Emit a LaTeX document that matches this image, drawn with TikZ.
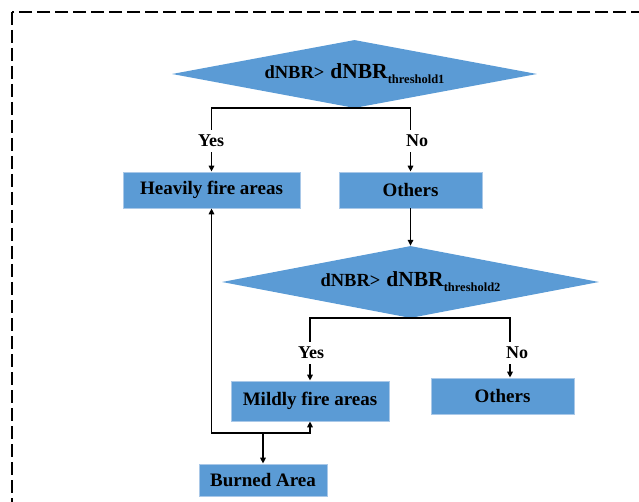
\documentclass[tikz,border=0pt]{standalone}
\usepackage{fontspec}
\setmainfont{Liberation Serif}
\usepackage{tikz}
\usetikzlibrary{shapes.geometric,arrows.meta}
\definecolor{boxfill}{HTML}{5B9BD5}
\definecolor{boxedge}{HTML}{A9C8E8}
\definecolor{ink}{HTML}{000000}
\newcommand{\thrtext}[1]{{\fontsize{18.5}{20}\selectfont dNBR>}\hspace{6pt}{\fontsize{21.5}{24}\selectfont dNBR}\raisebox{-5pt}{\fontsize{12.5}{14}\selectfont threshold#1}}
\tikzset{
  frame/.style={draw=ink, line width=1.3pt, dash pattern=on 13pt off 5pt},
  decbox/.style={diamond, shape aspect=5.4, fill=boxfill, draw=none, inner sep=0pt, font=\bfseries},
  resbox/.style={rectangle, fill=boxfill, draw=boxedge, line width=0.8pt, inner sep=0pt, minimum height=36pt, font=\bfseries\fontsize{19}{22}\selectfont},
  lab/.style={text=ink, inner sep=5pt, font=\bfseries\fontsize{18}{20}\selectfont},
  link/.style={draw=ink, line width=1.6pt},
  arr/.style={link, -{Triangle[length=6pt,width=5.5pt]}}
}
\begin{document}
\begin{tikzpicture}[x=1pt,y=-1pt]
  \clip (0,0) rectangle (639,502);
  \draw[frame] (12,12) rectangle (690,550);

  % First test
  \node[decbox, minimum width=365pt, minimum height=68pt] (dec1) at (354.5,74) {\thrtext{1}};
  \node[lab] (yes1) at (211,141) {Yes};
  \node[lab] (no1) at (417,141) {No};
  \node[resbox, minimum width=177pt] (heavy) at (211.5,190) {Heavily fire areas};
  \node[resbox, minimum width=143pt] (oth1) at (410.5,190) {Others};

  \draw[link] (yes1.north -| heavy.north) |- (dec1.south) -| (no1.north -| oth1.north);
  \draw[arr] (yes1.south -| heavy.north) -- (heavy.north);
  \draw[arr] (no1.south -| oth1.north) -- (oth1.north);

  % Second test
  \node[decbox, minimum width=377pt, minimum height=72pt] (dec2) at (410.5,282) {\thrtext{2}};
  \node[lab] (yes2) at (311,353) {Yes};
  \node[lab] (no2) at (517,353) {No};
  \node[resbox, minimum width=158pt, minimum height=40pt] (mild) at (310,401) {Mildly fire areas};
  \node[resbox, minimum width=143pt] (oth2) at (502.5,396) {Others};
  \coordinate (nob) at (510,319);

  \draw[arr] (oth1.south) -- (dec2.north);
  \draw[link] (yes2.north -| mild.north) |- (dec2.south) -| (nob |- no2.north);
  \draw[arr] (yes2.south -| mild.north) -- (mild.north);
  \draw[arr] (nob |- no2.south) -- (nob |- oth2.north);

  % Merge into burned area
  \node[resbox, minimum width=128pt, minimum height=32pt] (burned) at (263,480) {Burned Area};
  \coordinate (jn) at (263,433);
  \draw[arr] (jn) -| (heavy.south);
  \draw[arr] (jn) -| (mild.south);
  \draw[arr] (jn) -- (burned.north);
\end{tikzpicture}
\end{document}
